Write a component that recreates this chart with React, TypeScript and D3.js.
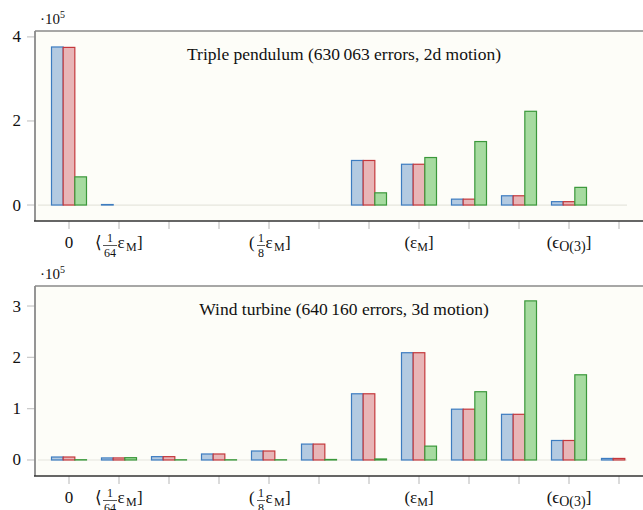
import React from 'react';
import * as d3 from 'd3';

const binIndex = d3.range(12);
const seriesKeys = ['sgd', 'adam', 'ours'];

// top panel: triple pendulum
const pendulumBlue = [376000, 1200, 0, 0, 0, 0, 106000, 97000, 14000, 22000, 8000, 0];
const pendulumRed = [375000, 0, 0, 0, 0, 0, 106000, 97000, 14000, 22000, 8000, 0];
const pendulumGreen = [67000, 0, 0, 0, 0, 0, 29000, 113000, 151000, 223000, 42000, 0];
const pendulumTicks = [0, 200000, 400000];

// bottom panel: wind turbine
const turbineBlue = [5800, 4000, 6500, 11700, 17500, 31000, 129000, 209000, 99000, 89000, 38000, 3000];
const turbineRed = [5800, 4000, 6500, 11700, 17500, 31000, 129000, 209000, 99000, 89000, 38000, 3000];
const turbineGreen = [500, 4500, 400, 400, 400, 1000, 2000, 27000, 133000, 310000, 166000, 0];
const turbineTicks = [0, 100000, 200000, 300000];

const fills = ['#b3cae1', '#e8b5b7', '#a6dba0'];
const strokes = ['#3d7cc0', '#c4383c', '#3a983a'];

const FONT = 'Liberation Serif, Times New Roman, DejaVu Serif, serif';

const x = d3.scaleBand<number>().domain(binIndex).range([44, 644]).paddingInner(0);
const xInner = d3.scaleBand<string>().domain(seriesKeys).range([-17.5, 17.5]);

const T = (props: any) => (
  <text fontSize={17} fill="#111" style={{ fontFamily: FONT }} {...props} />
);

// fraction 1/n followed by εM
const FracLabel = ({ open, den, fx }: { open: string; den: string; fx: number }) => {
  const fw = den.length * 6 + 2;
  return (
    <g>
      <T x={fx - 8}>{open}</T>
      <T x={fx + fw / 2} y={-6} fontSize={12} textAnchor="middle">1</T>
      <line x1={fx} x2={fx + fw} y1={-2.5} y2={-2.5} stroke="#111" strokeWidth={0.7} />
      <T x={fx + fw / 2} y={8.5} fontSize={12} textAnchor="middle">{den}</T>
      <T x={fx + fw + 0.5}>ε</T>
      <T x={fx + fw + 9} y={3} fontSize={12}>M</T>
      <T x={fx + fw + 20}>]</T>
    </g>
  );
};

const BinLabel = ({ i, y }: { i: number; y: number }) => {
  const cx = (x(i) as number) + x.bandwidth() / 2;
  let body = null;
  if (i === 0) body = <T textAnchor="middle">0</T>;
  if (i === 1) body = <FracLabel open="⟨" den="64" fx={-16} />;
  if (i === 4) body = <FracLabel open="(" den="8" fx={-12} />;
  if (i === 7)
    body = (
      <T textAnchor="middle">
        (ε<tspan fontSize={12} dy={3}>M</tspan>
        <tspan dy={-3}>]</tspan>
      </T>
    );
  if (i === 10)
    body = (
      <T textAnchor="middle">
        (ϵ<tspan fontSize={14} dy={3}>O(3)</tspan>
        <tspan dy={-3}>]</tspan>
      </T>
    );
  if (!body) return null;
  return <g transform={`translate(${cx},${y})`}>{body}</g>;
};

const Panel = ({
  top,
  bottom,
  domain,
  ticks,
  series,
  title,
}: {
  top: number;
  bottom: number;
  domain: [number, number];
  ticks: number[];
  series: number[][];
  title: string;
}) => {
  const y = d3.scaleLinear().domain(domain).range([bottom, top]);
  const left = 35;
  return (
    <g>
      <rect x={left} y={top} width={620} height={bottom - top} fill="#fdfdf8" />
      <line x1={38} x2={627} y1={y(0)} y2={y(0)} stroke="#e6e6de" strokeWidth={1.2} />
      {ticks.map((t) => (
        <g key={t}>
          <line x1={27} x2={left} y1={y(t)} y2={y(t)} stroke="#c8c8c8" strokeWidth={1.2} />
          <T x={21} y={y(t) + 5.5} textAnchor="end">
            {t / 1e5}
          </T>
        </g>
      ))}
      <T x={40} y={top - 7} fontSize={15}>
        ·10<tspan fontSize={10} dy={-6}>5</tspan>
      </T>
      {binIndex.map((i) => (
        <line
          key={i}
          x1={(x(i) as number) + x.bandwidth() / 2}
          x2={(x(i) as number) + x.bandwidth() / 2}
          y1={bottom}
          y2={bottom + 8}
          stroke="#c8c8c8"
          strokeWidth={1.3}
        />
      ))}
      {series.map((vals, s) =>
        vals.map((v, i) =>
          v > 0 ? (
            <rect
              key={`${s}-${i}`}
              x={(x(i) as number) + x.bandwidth() / 2 + (xInner(seriesKeys[s]) as number)}
              y={y(v)}
              width={xInner.bandwidth()}
              height={y(0) - y(v)}
              fill={fills[s]}
              stroke={strokes[s]}
              strokeWidth={1.2}
            />
          ) : null
        )
      )}
      <T x={344} y={top + 29} textAnchor="middle" fontSize={17.5}>
        {title}
      </T>
      <line x1={left} x2={650} y1={top} y2={top} stroke="#8a8a8a" strokeWidth={1.5} />
      <line x1={left} x2={left} y1={top} y2={bottom} stroke="#8a8a8a" strokeWidth={1.8} />
      <line x1={left - 1} x2={650} y1={bottom} y2={bottom} stroke="#333" strokeWidth={1.5} />
      {binIndex.map((i) => (
        <BinLabel key={i} i={i} y={bottom + 27} />
      ))}
    </g>
  );
};

export default function App() {
  return (
    <svg
      width={643}
      height={510}
      style={{ position: 'absolute', left: 0, top: 0, background: '#fff' }}
    >
      <Panel
        top={31}
        bottom={221}
        domain={[-38000, 414000]}
        ticks={pendulumTicks}
        series={[pendulumBlue, pendulumRed, pendulumGreen]}
        title={'Triple pendulum (630\u2009063 errors, 2d motion)'}
      />
      <Panel
        top={286}
        bottom={476}
        domain={[-31200, 339000]}
        ticks={turbineTicks}
        series={[turbineBlue, turbineRed, turbineGreen]}
        title={'Wind turbine (640\u2009160 errors, 3d motion)'}
      />
    </svg>
  );
}
